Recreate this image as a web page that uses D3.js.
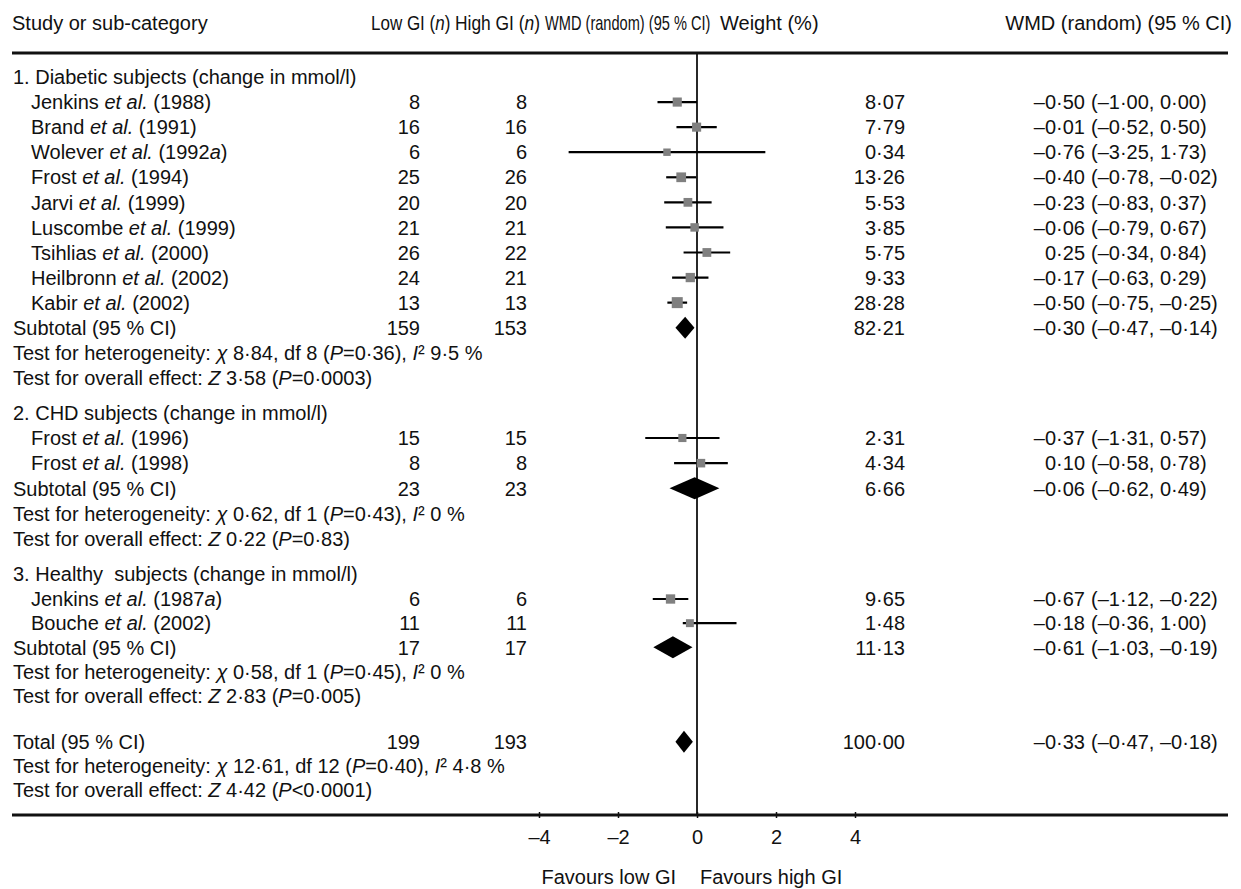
<!DOCTYPE html>
<html>
<head>
<meta charset="utf-8">
<script src="https://cdn.jsdelivr.net/npm/d3@7"></script>
<style>
body { margin: 0; background: #fff; }
svg { font-family: "Liberation Sans", Arial, Helvetica, sans-serif; font-size: 20px; fill: #111; }
svg text { white-space: pre; }
</style>
</head>
<body>
<div id="chart"></div>
<script>
// individual trials; "_" toggles italics in labels
var studyNames = [
    "Jenkins _et al._ (1988)", "Brand _et al._ (1991)", "Wolever _et al._ (1992_a_)",
    "Frost _et al._ (1994)", "Jarvi _et al._ (1999)", "Luscombe _et al._ (1999)",
    "Tsihlias _et al._ (2000)", "Heilbronn _et al._ (2002)", "Kabir _et al._ (2002)",
    "Frost _et al._ (1996)", "Frost _et al._ (1998)",
    "Jenkins _et al._ (1987_a_)", "Bouche _et al._ (2002)"
];
var studyGroup = [0, 0, 0, 0, 0, 0, 0, 0, 0, 1, 1, 2, 2];
var lowN = [8, 16, 6, 25, 20, 21, 26, 24, 13, 15, 8, 6, 11];
var highN = [8, 16, 6, 26, 20, 21, 22, 21, 13, 15, 8, 6, 11];
var wmd = [-0.50, -0.01, -0.76, -0.40, -0.23, -0.06, 0.25, -0.17, -0.50, -0.37, 0.10, -0.67, -0.18];
var ciLow = [-1.00, -0.52, -3.25, -0.78, -0.83, -0.79, -0.34, -0.63, -0.75, -1.31, -0.58, -1.12, -0.36];
var ciHigh = [0.00, 0.50, 1.73, -0.02, 0.37, 0.67, 0.84, 0.29, -0.25, 0.57, 0.78, -0.22, 1.00];
var weight = [8.07, 7.79, 0.34, 13.26, 5.53, 3.85, 5.75, 9.33, 28.28, 2.31, 4.34, 9.65, 1.48];

// sub-groups
var groupTitles = [
    "1. Diabetic subjects (change in mmol/l)",
    "2. CHD subjects (change in mmol/l)",
    "3. Healthy  subjects (change in mmol/l)"
];
var subLowN = [159, 23, 17];
var subHighN = [153, 23, 17];
var subWmd = [-0.30, -0.06, -0.61];
var subLow = [-0.47, -0.62, -1.03];
var subHigh = [-0.14, 0.49, -0.19];
var subWeight = [82.21, 6.66, 11.13];
var subHet = [
    "_χ_ 8·84, df 8 (_P_=0·36), _I_² 9·5 %",
    "_χ_ 0·62, df 1 (_P_=0·43), _I_² 0 %",
    "_χ_ 0·58, df 1 (_P_=0·45), _I_² 0 %"
];
var subEffect = ["_Z_ 3·58 (_P_=0·0003)", "_Z_ 0·22 (_P_=0·83)", "_Z_ 2·83 (_P_=0·005)"];

// pooled
var totalLowN = 199, totalHighN = 193;
var totalWmd = -0.33, totalLow = -0.47, totalHigh = -0.18, totalWeight = 100.00;
var totalHet = "_χ_ 12·61, df 12 (_P_=0·40), _I_² 4·8 %";
var totalEffect = "_Z_ 4·42 (_P_<0·0001)";

var xTicks = [-4, -2, 0, 2, 4];

var width = 1241, height = 889;

var svg = d3.select("#chart").append("svg")
    .attr("width", width)
    .attr("height", height);

// one slot per text line, with extra space before sub-groups and the total
var rows = [];
var slot = 0;
groupTitles.forEach(function (title, g) {
    if (g > 0) slot += 0.4;
    rows.push({ type: "title", text: title, slot: slot++ });
    studyGroup.forEach(function (sg, i) {
        if (sg === g) rows.push({ type: "study", i: i, slot: slot++ });
    });
    rows.push({ type: "sub", g: g, slot: slot++ });
    rows.push({ type: "note", text: "Test for heterogeneity: " + subHet[g], slot: slot++ });
    rows.push({ type: "note", text: "Test for overall effect: " + subEffect[g], slot: slot++ });
});
slot += 0.9;
rows.push({ type: "total", slot: slot++ });
rows.push({ type: "note", text: "Test for heterogeneity: " + totalHet, slot: slot++ });
rows.push({ type: "note", text: "Test for overall effect: " + totalEffect, slot: slot++ });

// first study of each later group pins the row scale
var y = d3.scaleLinear().domain([0, 14.4, 20.8, slot - 1]).range([77, 438, 599, 790]);
var x = d3.scaleLinear().domain([-4, 4]).range([539, 855]);
var boxSize = d3.scaleSqrt().domain([0, 28.28]).range([7, 11]);

var fmt = function (v) {
    return d3.format(".2f")(v).replace(".", "·").replace("−", "–");
};

function rich(sel, str) {
    str.split("_").forEach(function (part, k) {
        if (!part) return;
        sel.append("tspan").attr("font-style", k % 2 ? "italic" : null).text(part);
    });
    return sel;
}

function label(xp, yp, str, anchor) {
    var t = svg.append("text")
        .attr("x", xp)
        .attr("y", yp)
        .attr("dy", "0.36em")
        .attr("text-anchor", anchor || "start");
    return rich(t, str);
}

// narrow header cells over the n columns and the plot
function squeezed(xp, yp, str, sx) {
    var t = svg.append("text")
        .attr("transform", "translate(" + xp + "," + yp + ") scale(" + sx + ",1)")
        .attr("dy", "0.36em");
    return rich(t, str);
}

// header
label(12, 23, "Study or sub-category");
squeezed(371, 23, "Low GI (_n_)", 0.85);
squeezed(455, 23, "High GI (_n_)", 0.87);
squeezed(545, 23, "WMD (random) (95 % CI)", 0.73);
label(720, 23, "Weight (%)");
label(1232, 23, "WMD (random) (95 % CI)", "end");

svg.append("line")
    .attr("x1", 12).attr("x2", 1228)
    .attr("y1", 53).attr("y2", 53)
    .attr("stroke", "#111").attr("stroke-width", 3);

svg.append("line")
    .attr("x1", x(0)).attr("x2", x(0))
    .attr("y1", 53).attr("y2", 815)
    .attr("stroke", "#111").attr("stroke-width", 1.8);

function ciText(yp, est, lo, hi) {
    label(1085, yp, fmt(est), "end");
    label(1091, yp, "(" + fmt(lo) + ", " + fmt(hi) + ")");
}

function diamond(yp, est, lo, hi) {
    var h = 11;
    var pts = [[x(lo) - 3, yp], [x(est), yp - h], [x(hi) + 3, yp], [x(est), yp + h]];
    svg.append("path")
        .attr("d", d3.line()(pts) + "Z")
        .attr("fill", "#000");
}

rows.forEach(function (r) {
    var yp = y(r.slot);
    if (r.type === "title" || r.type === "note") {
        label(13, yp, r.text);
    } else if (r.type === "study") {
        var i = r.i;
        label(31, yp, studyNames[i]);
        label(420, yp, String(lowN[i]), "end");
        label(527, yp, String(highN[i]), "end");
        label(905, yp, fmt(weight[i]), "end");
        ciText(yp, wmd[i], ciLow[i], ciHigh[i]);
        svg.append("line")
            .attr("x1", x(ciLow[i])).attr("x2", x(ciHigh[i]))
            .attr("y1", yp).attr("y2", yp)
            .attr("stroke", "#000").attr("stroke-width", 2.2);
        var s = boxSize(weight[i]);
        svg.append("rect")
            .attr("x", x(wmd[i]) - s / 2).attr("y", yp - s / 2)
            .attr("width", s).attr("height", s)
            .attr("fill", "#808080");
    } else if (r.type === "sub") {
        var g = r.g;
        label(13, yp, "Subtotal (95 % CI)");
        label(420, yp, String(subLowN[g]), "end");
        label(527, yp, String(subHighN[g]), "end");
        label(905, yp, fmt(subWeight[g]), "end");
        ciText(yp, subWmd[g], subLow[g], subHigh[g]);
        diamond(yp, subWmd[g], subLow[g], subHigh[g]);
    } else if (r.type === "total") {
        label(13, yp, "Total (95 % CI)");
        label(420, yp, String(totalLowN), "end");
        label(527, yp, String(totalHighN), "end");
        label(905, yp, fmt(totalWeight), "end");
        ciText(yp, totalWmd, totalLow, totalHigh);
        diamond(yp, totalWmd, totalLow, totalHigh);
    }
});

// bottom axis
svg.append("line")
    .attr("x1", 12).attr("x2", 1228)
    .attr("y1", 815).attr("y2", 815)
    .attr("stroke", "#111").attr("stroke-width", 3);

var axis = svg.append("g")
    .attr("transform", "translate(0,812)")
    .call(d3.axisBottom(x)
        .tickValues(xTicks)
        .tickSizeInner(6)
        .tickSizeOuter(0)
        .tickPadding(12)
        .tickFormat(function (d) { return String(d).replace("−", "–").replace("-", "–"); }));
axis.select(".domain").remove();
axis.selectAll(".tick line").attr("stroke", "#111").attr("stroke-width", 1.5);
axis.selectAll(".tick text")
    .attr("font-size", 20)
    .attr("font-family", "'Liberation Sans', Arial, sans-serif")
    .attr("fill", "#111");

label(676, 877, "Favours low GI", "end");
label(700, 877, "Favours high GI");
</script>
</body>
</html>
